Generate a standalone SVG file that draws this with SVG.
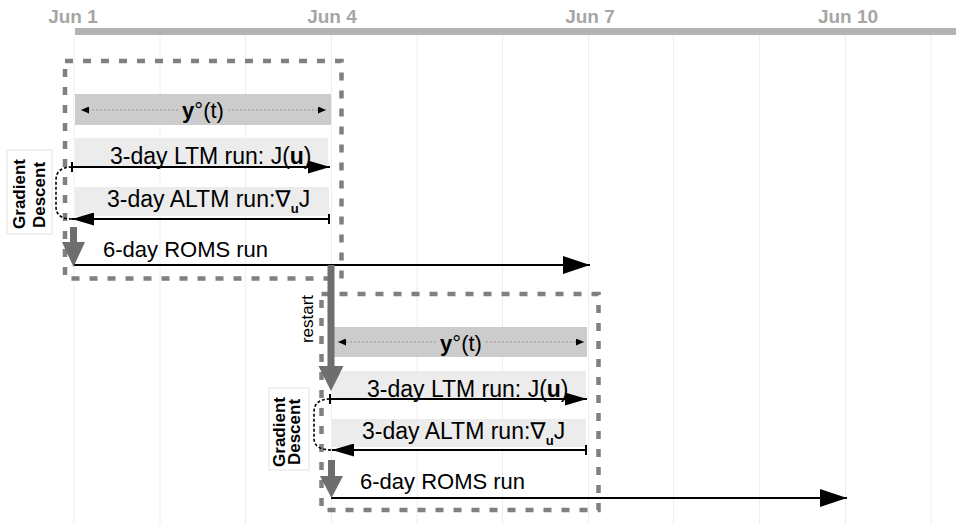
<svg xmlns="http://www.w3.org/2000/svg" width="956" height="524" viewBox="0 0 956 524">
<defs>
<style>
.grid{stroke:#eeeeee;stroke-width:1}
.day{font-family:"Liberation Sans",Arial,sans-serif;font-size:19px;font-weight:bold;fill:#a6a6a6;text-anchor:middle}
.box{fill:none;stroke:#808080;stroke-width:4.5;stroke-dasharray:8 10}
.obs{fill:#cccccc}
.run{fill:#ececec}
.lbl{font-family:"Liberation Sans",Arial,"DejaVu Sans",sans-serif;font-size:22px;fill:#000}
.big{font-size:23px}
.gd{font-family:"Liberation Sans",Arial,sans-serif;font-size:17px;font-weight:bold;fill:#000;text-anchor:middle}
.gdbox{fill:#ffffff;stroke:#e2e2e2;stroke-width:1}
.ln{stroke:#000;stroke-width:2;fill:none}
.dot{stroke:#999999;stroke-width:1;stroke-dasharray:2 2;fill:none}
.curve{stroke:#000;stroke-width:1.6;stroke-dasharray:3 2;fill:none}
.thick{fill:#6e6e6e}
</style>
<marker id="big" markerUnits="userSpaceOnUse" markerWidth="27" markerHeight="18" refX="27" refY="9" orient="auto" viewBox="0 0 27 18"><path d="M0,0 L27,9 L0,18 z" fill="#000"/></marker>
<marker id="med" markerUnits="userSpaceOnUse" markerWidth="22" markerHeight="13" refX="22" refY="6.5" orient="auto" viewBox="0 0 22 13"><path d="M0,0 L22,6.5 L0,13 z" fill="#000"/></marker>
<marker id="sm" markerUnits="userSpaceOnUse" markerWidth="8" markerHeight="7" refX="8" refY="3.5" orient="auto" viewBox="0 0 8 7"><path d="M0,0 L8,3.5 L0,7 z" fill="#000"/></marker>
</defs>
<rect width="956" height="524" fill="#ffffff"/>
<g id="grid">
<line class="grid" x1="74" y1="35" x2="74" y2="524"/>
<line class="grid" x1="160" y1="35" x2="160" y2="524"/>
<line class="grid" x1="245.5" y1="35" x2="245.5" y2="524"/>
<line class="grid" x1="331.5" y1="35" x2="331.5" y2="524"/>
<line class="grid" x1="417" y1="35" x2="417" y2="524"/>
<line class="grid" x1="502.5" y1="35" x2="502.5" y2="524"/>
<line class="grid" x1="588.5" y1="35" x2="588.5" y2="524"/>
<line class="grid" x1="673.5" y1="35" x2="673.5" y2="524"/>
<line class="grid" x1="759.5" y1="35" x2="759.5" y2="524"/>
<line class="grid" x1="845.5" y1="35" x2="845.5" y2="524"/>
<line class="grid" x1="931" y1="35" x2="931" y2="524"/>
</g>
<g id="timeline">
<rect x="75" y="28" width="881" height="7" fill="#b3b3b3"/>
<text class="day" x="73" y="23">Jun 1</text>
<text class="day" x="332" y="23">Jun 4</text>
<text class="day" x="590" y="23">Jun 7</text>
<text class="day" x="848" y="23">Jun 10</text>
</g>
<g id="window1">
<rect class="box" x="65" y="61" width="276.5" height="217.5"/>
</g>
<g id="window2">
<rect class="box" x="321.5" y="294" width="277" height="216"/>
</g>
<g id="obs1">
<rect class="obs" x="75" y="94" width="256" height="31"/>
<line class="dot" x1="178" y1="110" x2="81" y2="110" marker-end="url(#sm)"/>
<line class="dot" x1="228" y1="110" x2="326" y2="110" marker-end="url(#sm)"/>
<text class="lbl" x="203" y="118" text-anchor="middle"><tspan font-weight="bold">y</tspan>°(t)</text>
</g>
<g id="ltm1">
<rect class="run" x="75" y="138" width="253" height="28"/>
<text class="lbl big" x="110" y="164">3-day LTM run: J(<tspan font-weight="bold">u</tspan>)</text>
</g>
<g id="altm1">
<rect class="run" x="75" y="187" width="254" height="29"/>
<text class="lbl big" x="107" y="207">3-day ALTM run:∇<tspan font-size="13" font-weight="bold" dy="6">u</tspan><tspan dy="-6">J</tspan></text>
</g>
<g id="roms1">
<text class="lbl" x="103" y="257">6-day ROMS run</text>
</g>
<g id="gd1">
<rect class="gdbox" x="7" y="150" width="45" height="84"/>
<text class="gd" transform="translate(25,194) rotate(-90)">Gradient</text>
<text class="gd" transform="translate(45,195) rotate(-90)">Descent</text>
</g>
<g id="obs2">
<rect class="obs" x="333" y="327" width="254" height="30"/>
<line class="dot" x1="436" y1="342" x2="338" y2="342" marker-end="url(#sm)"/>
<line class="dot" x1="486" y1="342" x2="584" y2="342" marker-end="url(#sm)"/>
<text class="lbl" x="461" y="351" text-anchor="middle"><tspan font-weight="bold">y</tspan>°(t)</text>
</g>
<g id="ltm2">
<rect class="run" x="332" y="371" width="254" height="27"/>
<text class="lbl big" x="367" y="397">3-day LTM run: J(<tspan font-weight="bold">u</tspan>)</text>
</g>
<g id="altm2">
<rect class="run" x="332" y="419" width="254" height="28"/>
<text class="lbl big" x="362" y="439">3-day ALTM run:∇<tspan font-size="13" font-weight="bold" dy="6">u</tspan><tspan dy="-6">J</tspan></text>
</g>
<g id="roms2">
<text class="lbl" x="360" y="489">6-day ROMS run</text>
</g>
<g id="gd2">
<rect class="gdbox" x="269" y="388" width="40" height="82"/>
<text class="gd" transform="translate(285,432) rotate(-90)">Gradient</text>
<text class="gd" transform="translate(300,432) rotate(-90)">Descent</text>
</g>
<g id="restart-label">
<text class="lbl" text-anchor="middle" style="font-size:17px" transform="translate(313,319) rotate(-90)">restart</text>
</g>
<g id="connectors">
<line class="ln" x1="72" y1="167" x2="330" y2="167" marker-end="url(#med)"/>
<line class="ln" x1="72" y1="162" x2="72" y2="172"/>
<line class="ln" x1="329" y1="219" x2="72" y2="219" marker-end="url(#med)"/>
<line class="ln" x1="329" y1="214" x2="329" y2="224"/>
<path class="curve" d="M72,167 C61,167 56,172 56,180 L56,207 C56,215 62,219 72,219"/>
<line class="ln" x1="74" y1="265" x2="590" y2="265" marker-end="url(#big)"/>
<path class="thick" d="M70,227 H77 V242 H85 L73.5,267 L62,242 H70 Z"/>
<path class="thick" d="M327.5,265 H334.5 V366 H343.5 L331,391 L318.5,366 H327.5 Z"/>
<line class="ln" x1="330" y1="399" x2="587" y2="399" marker-end="url(#med)"/>
<line class="ln" x1="330" y1="394" x2="330" y2="404"/>
<line class="ln" x1="586" y1="450" x2="332" y2="450" marker-end="url(#med)"/>
<line class="ln" x1="586" y1="445" x2="586" y2="455"/>
<path class="curve" d="M330,399 C319,399 314,404 314,412 L314,438 C314,446 320,450 332,450"/>
<line class="ln" x1="331" y1="498" x2="847" y2="498" marker-end="url(#big)"/>
<path class="thick" d="M328,460 H335 V476 H343 L331.5,498 L320,476 H328 Z"/>
</g>
</svg>
